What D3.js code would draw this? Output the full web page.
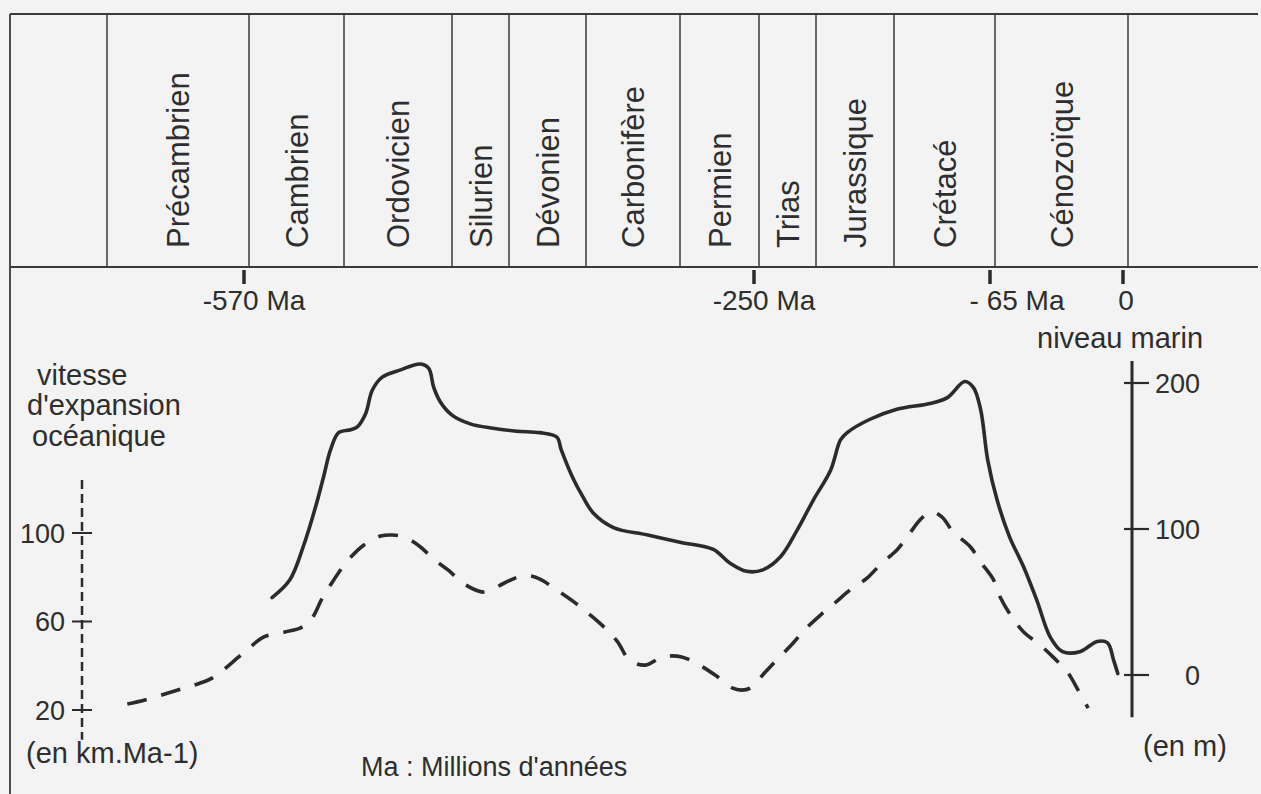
<!DOCTYPE html>
<html>
<head>
<meta charset="utf-8">
<script src="https://cdn.jsdelivr.net/npm/d3@7/dist/d3.min.js"></script>
<style>
  html, body { margin: 0; padding: 0; background: #f3f3f3; }
  svg { display: block; }
  text { font-family: "Liberation Sans", Arial, sans-serif; fill: #2e2e2e; }
</style>
</head>
<body>
<svg id="chart" width="1261" height="794"></svg>
<script>
// ---------------- DATA ----------------
const periods = ["Précambrien", "Cambrien", "Ordovicien", "Silurien", "Dévonien",
  "Carbonifère", "Permien", "Trias", "Jurassique", "Crétacé", "Cénozoïque"];
// period boundaries (Ma, negative = before present); first value = left edge of the Précambrien cell
const boundariesMa = [-675, -570, -500, -435, -410, -360, -295, -250, -205, -135, -65, 0];

const timeTicks = [-570, -250, -65, 0];
const timeTickLabels = ["-570 Ma", "-250 Ma", "- 65 Ma", "0"];

const speedTicks = [20, 60, 100];
const seaTicks = [0, 100, 200];

// Sea level (m) — solid curve, right axis
const seaAge = [-553,-540,-530,-521,-515,-510,-504,-496,-492,-487,-483,-477,-466,-454,-449,-446,-442,
  -435,-427,-417,-405,-390,-379,-376,-369,-362,-355,-341,-318,-295,-276,-267,-257,-247,-233,-220,-207,
  -192,-183,-177,-157,-133,-110,-98,-86,-80,-75,-70,-64,-58,-51,-44.5,-38,-32,-23.5,-15,-10,-7,-5];
const seaLevel = [53,65,88,115,136,154,166,168,170,179,195,204,209,213,210,197,187,
  178,172,169,167,166,163,154,136,122,111,101,96,91,86,77,71,72,81,99,120,
  140,161,166,175,182,186,190,201,197,182,147,120,95,74,51,26,16,16,23,22,10,1];

// Oceanic spreading rate (km/Ma) — dashed curve, left axis
const speedAge = [-660,-647,-625,-606,-597,-574,-559,-543.5,-532,-524,-516,-510,-498,-488,-478,-471,
  -464,-455.5,-444.6,-437.4,-429,-421,-412,-404,-396,-389,-379,-367,-357,-347,-338,-330,-319,-307,
  -294,-284,-275,-265,-260,-255,-245,-236,-223,-214,-201,-188,-174.5,-159,-146,-133,-124,-115.6,
  -108.7,-101.7,-94,-82,-75,-66,-62.5,-56.7,-51,-43,-36.7,-29.3,-24.4,-19.5];
const speedValue = [22.7,24.5,28.6,32.2,34.5,45.8,53,55.3,57.1,61.1,70.6,76.5,87.3,94.6,98.6,99.1,
  98.2,94.6,87.3,83.3,76.5,73.3,77.4,80.1,80.6,78.8,74.2,68.4,62.9,57.1,50.7,42.6,40.3,44,
  44,40.3,35.8,29.9,29,29.9,37.2,42.6,50.3,56.2,62.9,68.4,74.2,79.7,86.4,92.3,100,106.8,
  109.5,107.2,100.5,93.7,86.9,78.8,71.1,62,55.3,49.4,44,36.7,29,20.9];

// ---------------- LAYOUT ----------------
const boundaryPx = [107, 249, 344, 452, 509, 586, 680, 759, 816, 894, 995, 1128];
const frame = { left: 10, top: 14, headerBottom: 267, right: 1258, bottom: 794 };
const ink = "#2b2b2b";

const svg = d3.select("#chart");

const x = d3.scaleLinear().domain(boundariesMa).range(boundaryPx);
const ySea = d3.scaleLinear().domain([0, 200]).range([675, 383]);
const ySpeed = d3.scaleLinear().domain([20, 100]).range([710, 533]);

// ---- frame / header table ----
const g = svg.append("g");
g.append("line").attr("x1", frame.left).attr("x2", frame.right).attr("y1", frame.top).attr("y2", frame.top)
  .attr("stroke", "#3a3a3a").attr("stroke-width", 1.8);
g.append("line").attr("x1", frame.left).attr("x2", frame.right).attr("y1", frame.headerBottom).attr("y2", frame.headerBottom)
  .attr("stroke", "#3a3a3a").attr("stroke-width", 1.8);
g.append("line").attr("x1", frame.left).attr("x2", frame.left).attr("y1", frame.top).attr("y2", frame.bottom)
  .attr("stroke", "#3a3a3a").attr("stroke-width", 1.8);

g.selectAll("line.div").data(boundariesMa).join("line").attr("class", "div")
  .attr("x1", d => x(d)).attr("x2", d => x(d))
  .attr("y1", frame.top).attr("y2", frame.headerBottom)
  .attr("stroke", "#3a3a3a").attr("stroke-width", 1.5);

g.selectAll("text.period").data(periods).join("text").attr("class", "period")
  .attr("transform", (d, i) => {
    const cx = (x(boundariesMa[i]) + x(boundariesMa[i + 1])) / 2;
    return `translate(${cx},248) rotate(-90)`;
  })
  .attr("dy", "0.36em")
  .attr("text-anchor", "start")
  .style("font-size", "31px")
  .text(d => d);

// ---- time ticks under header ----
const tickDx = [10, 10, 27, 3];
timeTicks.forEach((t, i) => {
  const tx = x(t) - 5;
  g.append("line").attr("x1", tx).attr("x2", tx).attr("y1", 270).attr("y2", 284)
    .attr("stroke", ink).attr("stroke-width", 3.5);
  g.append("text").attr("x", tx + tickDx[i]).attr("y", 310).attr("text-anchor", "middle")
    .style("font-size", "28px").text(timeTickLabels[i]);
});

// ---- left axis (dashed) : vitesse d'expansion ----
const leftX = 82;
g.append("line").attr("x1", leftX).attr("x2", leftX)
  .attr("y1", ySpeed(124)).attr("y2", ySpeed(6.5))
  .attr("stroke", ink).attr("stroke-width", 2.5).attr("stroke-dasharray", "9,5");
g.selectAll("line.lt").data(speedTicks).join("line").attr("class", "lt")
  .attr("x1", leftX - 10).attr("x2", leftX + 10)
  .attr("y1", d => ySpeed(d)).attr("y2", d => ySpeed(d))
  .attr("stroke", ink).attr("stroke-width", 2);
g.selectAll("text.ltl").data(speedTicks).join("text").attr("class", "ltl")
  .attr("x", 65).attr("y", d => ySpeed(d)).attr("dy", "0.36em")
  .attr("text-anchor", "end").style("font-size", "27px").text(d => d);

[["vitesse", 37, 385], ["d'expansion", 27, 415], ["océanique", 32, 446], ["(en km.Ma-1)", 26, 763]]
  .forEach(([t, tx, ty]) => g.append("text").attr("x", tx).attr("y", ty).style("font-size", "29px").text(t));

// ---- right axis (solid) : niveau marin ----
const rightX = 1132;
g.append("line").attr("x1", rightX).attr("x2", rightX)
  .attr("y1", ySea(215)).attr("y2", ySea(-29))
  .attr("stroke", ink).attr("stroke-width", 3);
g.selectAll("line.rt").data(seaTicks).join("line").attr("class", "rt")
  .attr("x1", rightX - 8).attr("x2", rightX + 17)
  .attr("y1", d => ySea(d)).attr("y2", d => ySea(d))
  .attr("stroke", ink).attr("stroke-width", 2.2);
g.selectAll("text.rtl").data(seaTicks).join("text").attr("class", "rtl")
  .attr("x", 1200).attr("y", d => ySea(d)).attr("dy", "0.36em")
  .attr("text-anchor", "end").style("font-size", "27px").text(d => d);

g.append("text").attr("x", 1037).attr("y", 348).style("font-size", "29px").text("niveau marin");
g.append("text").attr("x", 1143).attr("y", 756).style("font-size", "29px").text("(en m)");
g.append("text").attr("x", 361).attr("y", 776).style("font-size", "27px").text("Ma : Millions d'années");

// ---- curves ----
const seaData = seaAge.map((a, i) => [a, seaLevel[i]]);
const speedData = speedAge.map((a, i) => [a, speedValue[i]]);

const seaLine = d3.line().x(d => x(d[0])).y(d => ySea(d[1])).curve(d3.curveCatmullRom.alpha(0.5));
const speedLine = d3.line().x(d => x(d[0])).y(d => ySpeed(d[1])).curve(d3.curveCatmullRom.alpha(0.5));

g.append("path").datum(seaData).attr("d", seaLine)
  .attr("fill", "none").attr("stroke", ink).attr("stroke-width", 3.6)
  .attr("stroke-linejoin", "round").attr("stroke-linecap", "round");

g.append("path").datum(speedData).attr("d", speedLine)
  .attr("fill", "none").attr("stroke", ink).attr("stroke-width", 3.6)
  .attr("stroke-dasharray", "20,15");
</script>
</body>
</html>
